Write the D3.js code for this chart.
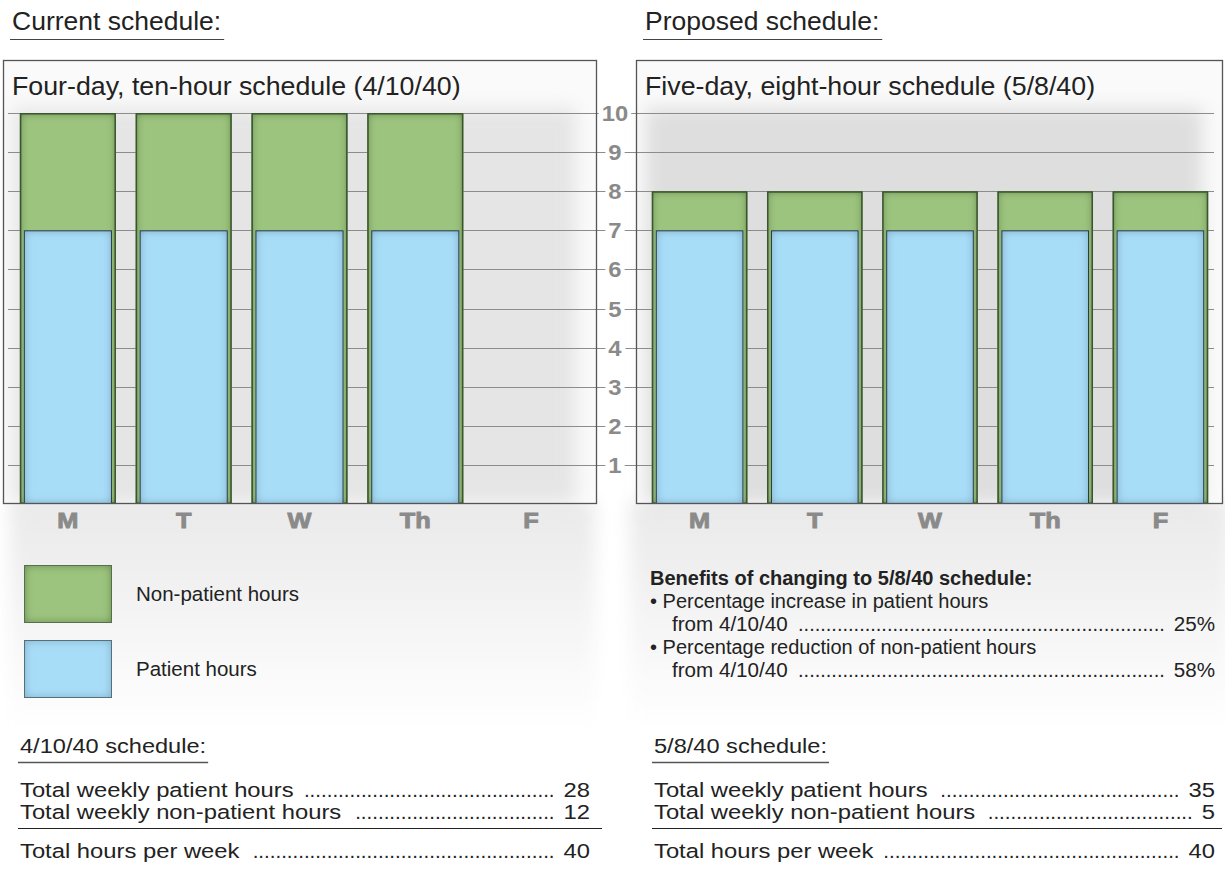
<!DOCTYPE html>
<html>
<head>
<meta charset="utf-8">
<script src="https://cdn.jsdelivr.net/npm/d3@7/dist/d3.min.js"></script>
<style>
  body { margin: 0; background: #fff; }
  text { font-family: "Liberation Sans", Arial, sans-serif; }
</style>
</head>
<body>
<svg id="chart" width="1225" height="878"></svg>
<script>
// data
const days = ["M", "T", "W", "Th", "F"];
const currentPatient = [7, 7, 7, 7, 0];
const currentNonPatient = [3, 3, 3, 3, 0];
const proposedPatient = [7, 7, 7, 7, 7];
const proposedNonPatient = [1, 1, 1, 1, 1];
const yTicks = [1, 2, 3, 4, 5, 6, 7, 8, 9, 10];

const legendItems = ["Non-patient hours", "Patient hours"];
const currentRows = ["Total weekly patient hours", "Total weekly non-patient hours", "Total hours per week"];
const currentValues = ["28", "12", "40"];
const proposedRows = ["Total weekly patient hours", "Total weekly non-patient hours", "Total hours per week"];
const proposedValues = ["35", "5", "40"];
const benefitLines = ["• Percentage increase in patient hours", "from 4/10/40", "• Percentage reduction of non-patient hours", "from 4/10/40"];
const benefitValues = [null, "25%", null, "58%"];

const svg = d3.select("#chart");
const defs = svg.append("defs");

const blur = defs.append("filter").attr("id", "soft")
    .attr("x", "-20%").attr("y", "-20%").attr("width", "140%").attr("height", "140%");
blur.append("feGaussianBlur").attr("stdDeviation", 9);

function innerShadow(id, color, opacity, dev) {
    const f = defs.append("filter").attr("id", id);
    f.append("feFlood").attr("flood-color", color).attr("flood-opacity", opacity);
    f.append("feComposite").attr("in2", "SourceAlpha").attr("operator", "out");
    f.append("feGaussianBlur").attr("stdDeviation", dev).attr("result", "sh");
    f.append("feComposite").attr("in", "sh").attr("in2", "SourceAlpha").attr("operator", "in").attr("result", "inner");
    const m = f.append("feMerge");
    m.append("feMergeNode").attr("in", "SourceGraphic");
    m.append("feMergeNode").attr("in", "inner");
}
innerShadow("greenIn", "#2a4a1a", 0.85, 4);
innerShadow("blueIn", "#1a4866", 0.6, 5);

const fade = defs.append("linearGradient").attr("id", "fade")
    .attr("x1", 0).attr("y1", 0).attr("x2", 0).attr("y2", 1);
fade.append("stop").attr("offset", "0%").attr("stop-color", "#e9e9e9");
fade.append("stop").attr("offset", "100%").attr("stop-color", "#fff");

// the source type is a little wider than Liberation Sans, stretch it
function widen(sel, k) {
    sel.each(function() {
        const w = this.getComputedTextLength();
        d3.select(this).attr("textLength", w * k).attr("lengthAdjust", "spacingAndGlyphs");
    });
    return sel;
}

const y = d3.scaleLinear().domain([0, 10]).range([504, 113]);

const panels = [
    {box: [3, 596], range: [10, 589], title: "Four-day, ten-hour schedule (4/10/40)", header: "Current schedule:",
        patient: currentPatient, nonPatient: currentNonPatient, bg: "#e5e5e5"},
    {box: [636, 1222], range: [642, 1218], title: "Five-day, eight-hour schedule (5/8/40)", header: "Proposed schedule:",
        patient: proposedPatient, nonPatient: proposedNonPatient, bg: "#dedede"}
];

// soft backgrounds under the charts
const bgLayer = svg.append("g").attr("filter", "url(#soft)");
bgLayer.append("rect").attr("x", 10).attr("y", 500).attr("width", 585).attr("height", 230).attr("fill", "url(#fade)");
bgLayer.append("rect").attr("x", 630).attr("y", 500).attr("width", 600).attr("height", 230).attr("fill", "url(#fade)");

panels.forEach(p => {
    const g = svg.append("g");

    // header with underline
    const hx = p.box[0] + 9;
    const ht = g.append("text").attr("x", hx).attr("y", 30).attr("font-size", 25).attr("fill", "#222").text(p.header);
    widen(ht, 1.06);
    const hw = +ht.attr("textLength");
    g.append("line").attr("x1", hx - 2).attr("x2", hx + hw + 3).attr("y1", 39.5).attr("y2", 39.5)
        .attr("stroke", "#444").attr("stroke-width", 1.2);

    // panel background
    g.append("rect").attr("x", p.box[0]).attr("y", 60).attr("width", p.box[1] - p.box[0]).attr("height", 443).attr("fill", "#fafafa");
    g.append("rect").attr("x", p.box[0] + 10).attr("y", 108).attr("width", p.box[1] - p.box[0] - 30).attr("height", 395)
        .attr("fill", p.bg).attr("filter", "url(#soft)");

    // title
    widen(g.append("text").attr("x", p.box[0] + 9).attr("y", 95).attr("font-size", 25).attr("fill", "#222").text(p.title), 1.07);
});

// gridlines across both panels
svg.append("g").selectAll("line").data(yTicks).join("line")
    .attr("x1", 8).attr("x2", 1214)
    .attr("y1", d => Math.round(y(d)) + 0.5).attr("y2", d => Math.round(y(d)) + 0.5)
    .attr("stroke", "#8c8c8c").attr("stroke-width", 1);

panels.forEach(p => {
    const x = d3.scaleBand().domain(days).range(p.range).paddingInner(0.17).paddingOuter(0.085);
    const bars = svg.append("g");
    const rows = days.map((d, i) => ({day: d, patient: p.patient[i], total: p.patient[i] + p.nonPatient[i]}))
        .filter(r => r.total > 0);

    bars.selectAll("rect.non").data(rows).join("rect").attr("class", "non")
        .attr("x", d => x(d.day)).attr("width", x.bandwidth())
        .attr("y", d => y(d.total)).attr("height", d => y(0) - y(d.total))
        .attr("fill", "#9cc47e").attr("filter", "url(#greenIn)");
    bars.selectAll("rect.nonEdge").data(rows).join("rect").attr("class", "nonEdge")
        .attr("x", d => x(d.day) + 0.75).attr("width", x.bandwidth() - 1.5)
        .attr("y", d => y(d.total) + 0.75).attr("height", d => y(0) - y(d.total) - 1.5)
        .attr("fill", "none").attr("stroke", "#3a5530").attr("stroke-width", 1.5);

    bars.selectAll("rect.pat").data(rows).join("rect").attr("class", "pat")
        .attr("x", d => x(d.day) + 4).attr("width", x.bandwidth() - 8)
        .attr("y", d => y(d.patient)).attr("height", d => y(0) - y(d.patient))
        .attr("fill", "#a8ddf8").attr("filter", "url(#blueIn)");
    bars.selectAll("rect.patEdge").data(rows).join("rect").attr("class", "patEdge")
        .attr("x", d => x(d.day) + 4.5).attr("width", x.bandwidth() - 9)
        .attr("y", d => y(d.patient) + 0.5).attr("height", d => y(0) - y(d.patient) - 1)
        .attr("fill", "none").attr("stroke", "#2a3c40").attr("stroke-width", 1);

    // frame
    svg.append("rect").attr("x", p.box[0] + 0.5).attr("y", 60.5)
        .attr("width", p.box[1] - p.box[0]).attr("height", 443)
        .attr("fill", "none").attr("stroke", "#555").attr("stroke-width", 1.3);

    // day labels
    widen(svg.append("g").selectAll("text").data(days).join("text")
        .attr("x", d => x(d) + x.bandwidth() / 2).attr("y", 528)
        .attr("text-anchor", "middle").attr("font-size", 22).attr("font-weight", "bold")
        .attr("fill", "#8a8a8a").attr("stroke", "#8a8a8a").attr("stroke-width", 0.9)
        .text(d => d), 1.15);
});

// y tick labels in the gap between the panels
const yl = svg.append("g").selectAll("text").data(yTicks).join("text")
    .attr("x", 615).attr("y", d => y(d) + 8)
    .attr("text-anchor", "middle").attr("font-size", 22).attr("font-weight", "bold")
    .attr("fill", "#8a8a8a")
    .text(d => d);
widen(yl, 1.08);
// white backing behind the numbers, so the gridlines break around them
yl.each(function() {
    const b = this.getBBox();
    d3.select(this.parentNode).insert("rect", "text")
        .attr("x", b.x - 3).attr("y", b.y + 4).attr("width", b.width + 6).attr("height", b.height - 8)
        .attr("fill", "#fff");
});

// legend
const legendColors = [["#9cc47e", "greenIn", "#55704a"], ["#a8ddf8", "blueIn", "#55707a"]];
const lg = svg.append("g");
lg.selectAll("rect").data(legendItems).join("rect")
    .attr("x", 24).attr("y", (d, i) => 565 + i * 75).attr("width", 88).attr("height", 58)
    .attr("fill", (d, i) => legendColors[i][0]).attr("filter", (d, i) => `url(#${legendColors[i][1]})`);
lg.selectAll("rect.edge").data(legendItems).join("rect").attr("class", "edge")
    .attr("x", 24.5).attr("y", (d, i) => 565.5 + i * 75).attr("width", 87).attr("height", 57)
    .attr("fill", "none").attr("stroke", (d, i) => legendColors[i][2]).attr("stroke-width", 1);
lg.selectAll("text").data(legendItems).join("text")
    .attr("x", 136).attr("y", (d, i) => 601 + i * 75).attr("font-size", 20.5).attr("fill", "#222").text(d => d);

// dotted leader rows
function leaderRow(g, x0, x1, yy, label, value, size, k) {
    const t = widen(g.append("text").attr("x", x0).attr("y", yy).attr("font-size", size).attr("fill", "#222").text(label), k);
    const v = widen(g.append("text").attr("x", x1).attr("y", yy).attr("text-anchor", "end").attr("font-size", size).attr("fill", "#222").text(value), k);
    const lw = +t.attr("textLength");
    const vw = +v.attr("textLength");
    const probe = g.append("text").attr("font-size", size).text("..........");
    const dw = probe.node().getComputedTextLength() / 10;
    probe.remove();
    const n = Math.floor((x1 - vw - x0 - lw - 18) / dw);
    g.append("text").attr("x", x1 - vw - 9).attr("y", yy).attr("text-anchor", "end")
        .attr("font-size", size).attr("fill", "#222").text(".".repeat(Math.max(n, 0)));
}

// benefits block
const bg = svg.append("g");
bg.append("text").attr("x", 650).attr("y", 585).attr("font-size", 20).attr("font-weight", "bold").attr("fill", "#222")
    .text("Benefits of changing to 5/8/40 schedule:");
benefitLines.forEach((line, i) => {
    const yy = 608 + i * 23;
    if (benefitValues[i] === null) {
        bg.append("text").attr("x", 650).attr("y", yy).attr("font-size", 20).attr("fill", "#222").text(line);
    } else {
        leaderRow(bg, 672, 1215, yy, line, benefitValues[i], 20, 1.03);
    }
});

// totals tables
[[18, 602, 590, "4/10/40 schedule:", currentRows, currentValues],
 [652, 1222, 1215, "5/8/40 schedule:", proposedRows, proposedValues]].forEach(([x0, xEnd, xv, head, rows, vals]) => {
    const g = svg.append("g");
    const h = widen(g.append("text").attr("x", x0 + 2).attr("y", 753).attr("font-size", 20.5).attr("fill", "#222").text(head), 1.15);
    const hw = +h.attr("textLength");
    g.append("line").attr("x1", x0).attr("x2", x0 + hw + 4).attr("y1", 762.5).attr("y2", 762.5).attr("stroke", "#555").attr("stroke-width", 1.5);
    rows.forEach((r, i) => {
        const yy = i < 2 ? 797 + i * 22 : 858;
        leaderRow(g, x0 + 2, xv, yy, r, vals[i], 20.5, 1.16);
    });
    g.append("line").attr("x1", x0).attr("x2", xEnd).attr("y1", 828.5).attr("y2", 828.5).attr("stroke", "#222").attr("stroke-width", 1.2);
});
</script>
</body>
</html>
